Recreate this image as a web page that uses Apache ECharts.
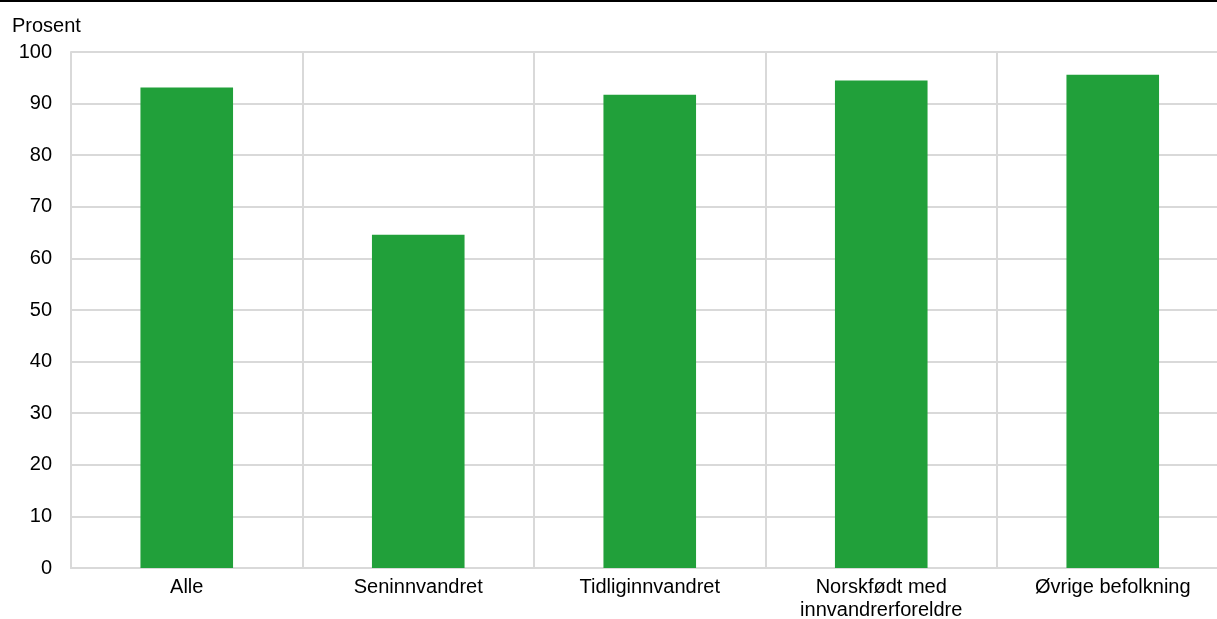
<!DOCTYPE html>
<html>
<head>
<meta charset="utf-8">
<script src="https://cdn.jsdelivr.net/npm/echarts@6/dist/echarts.min.js"></script>
<style>
html,body{margin:0;padding:0;background:#fff;overflow:hidden;width:1217px;height:619px;}
#c{width:1229px;height:619px;}
</style>
</head>
<body>
<div id="c"></div>
<script>
var categories = ["Alle", "Seninnvandret", "Tidliginnvandret", "Norskfødt med\ninnvandrerforeldre", "Øvrige befolkning"];
var values = [93.1, 64.6, 91.7, 94.5, 95.6];
var yTicks = [0, 10, 20, 30, 40, 50, 60, 70, 80, 90, 100];
var unitLabel = "Prosent";

var chart = echarts.init(document.getElementById('c'), null, {renderer: 'canvas'});
var font = '"Liberation Sans", Arial, sans-serif';
chart.setOption({
  animation: false,
  backgroundColor: '#ffffff',
  graphic: [
    {type: 'rect', left: 0, top: 0, shape: {width: 1229, height: 2}, style: {fill: '#000000'}},
    {type: 'text', left: 12, top: 16, style: {text: unitLabel, font: '20px ' + font, fill: '#000000'}}
  ],
  grid: {left: 71, top: 52, height: 516, width: 1157.5, containLabel: false, outerBoundsMode: 'none'},
  xAxis: {
    type: 'category',
    data: categories,
    boundaryGap: true,
    axisLine: {show: true, lineStyle: {color: '#d9d9d9', width: 2}},
    axisTick: {show: false},
    splitLine: {show: true, lineStyle: {color: '#d9d9d9', width: 2}},
    axisLabel: {color: '#000000', fontSize: 20, fontFamily: font, margin: 8, lineHeight: 23, interval: 0}
  },
  yAxis: {
    type: 'value',
    min: yTicks[0],
    max: yTicks[yTicks.length - 1],
    interval: 10,
    axisLine: {show: true, lineStyle: {color: '#d9d9d9', width: 2}},
    axisTick: {show: false},
    splitLine: {show: true, lineStyle: {color: '#d9d9d9', width: 2}},
    axisLabel: {color: '#000000', fontSize: 20, fontFamily: font, margin: 19}
  },
  series: [{
    type: 'bar',
    data: values,
    barWidth: '40%',
    itemStyle: {color: '#21a03a'}
  }]
});
</script>
</body>
</html>
